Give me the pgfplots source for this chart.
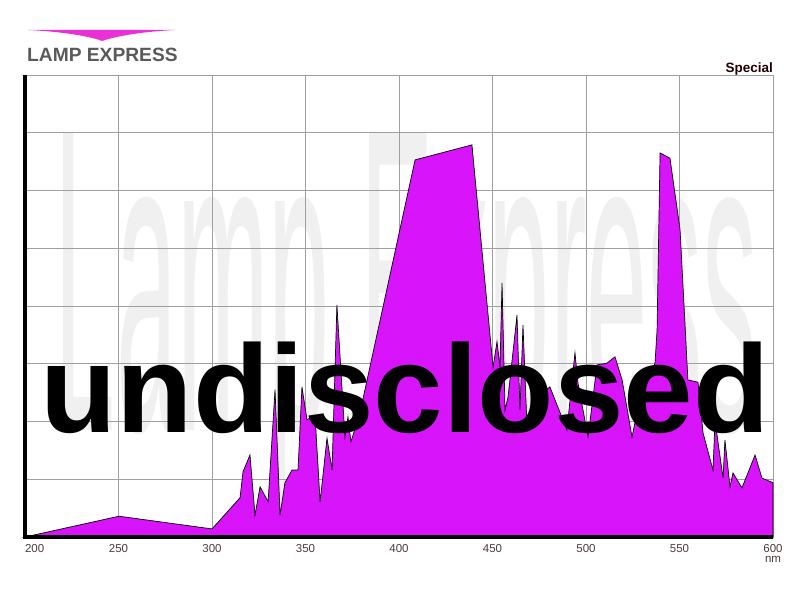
\documentclass[border=0pt]{standalone}
\usepackage{fontspec}
\setmainfont{Liberation Sans}
\setsansfont{Liberation Sans}
\usepackage{pgfplots}
\pgfplotsset{compat=1.18}

\definecolor{spec}{HTML}{D814FA}
\definecolor{logo}{HTML}{E832D8}
\definecolor{brandgray}{HTML}{5A5A5A}
\definecolor{ticktext}{HTML}{4A3C3C}
\definecolor{wm}{HTML}{F0F0F0}

% spectrum (nm, relative units 0..8)
\pgfplotstableread{
nm v
200 0
250.3 0.36
300 0.14
315 0.68
316.6 1.13
320.3 1.42
323 0.38
325.7 0.87
330 0.61
333.7 2.55
336.4 0.38
339 0.94
342.8 1.16
346 1.16
348.1 2.6
350.8 2.03
355.1 2.11
357.8 0.61
361.5 1.71
364.2 1.16
366.8 4.02
371.1 1.73
372.7 2.08
374.3 1.65
379.1 2.15
408.6 6.53
439 6.79
450.3 2.94
452.4 3.38
454 2.94
455.1 4.4
456.7 2.2
458.3 2.42
463.1 3.84
464.7 2.2
466.3 3.67
468.4 1.97
471.1 2.34
480.7 2.6
489.8 1.85
494.1 3.19
495.7 2.67
501.1 1.73
505.9 2.98
511.2 3.01
515.5 3.12
519.3 2.72
524.6 1.73
527.8 2.25
536.9 3.01
538 3.58
539.6 6.65
544.9 6.56
550.3 5.32
554.5 2.72
559.9 2.68
562.6 1.8
567.9 1.16
569 2.01
573.3 1.02
574.3 1.68
577 0.87
578.6 1.11
583.4 0.85
590.4 1.42
594.1 1.02
600 0.94
}\spectrum

\begin{document}
\begin{tikzpicture}[x=1pt,y=1pt]
\begin{axis}[
  name=ax, set layers,
  scale only axis, width=748pt, height=462pt,
  xmin=200, xmax=600, ymin=0, ymax=8,
  xtick={200,250,...,600}, ytick={0,1,...,8},
  xticklabels={\makebox[0pt][l]{200},250,300,350,400,450,500,550,600},
  yticklabels={},
  major tick length=0pt,
  grid=major,
  grid style={draw=gray!75, line width=0.8pt},
  axis line style={draw=gray!75, line width=0.8pt},
  tick label style={text=ticktext, font=\fontsize{11.5}{12}\selectfont},
  xticklabel style={yshift=-4pt},
  clip=false,
]
\begin{pgfonlayer}{axis background}
\node[text=wm, font=\fontsize{110}{110}\selectfont, inner sep=0pt, anchor=base,
  xscale=1.0, yscale=3.94] at (axis cs:404,1.85) {Lamp Express};
\end{pgfonlayer}
\addplot[fill=spec, draw=black, line width=0.7pt] table[x=nm, y=v] {\spectrum} \closedcycle;
\draw[black, line width=3.5pt] (rel axis cs:0,1) -- (rel axis cs:0,0) -- (rel axis cs:1,0);
\node[text=ticktext, font=\fontsize{11.5}{12}\selectfont, anchor=north, inner sep=0pt]
  at ([yshift=-19.5pt]rel axis cs:1,0) {nm};
\node[anchor=base east, text=black!80!red!60!black, font=\bfseries\fontsize{13.5}{14}\selectfont, inner sep=0pt]
  at ([yshift=2.5pt]rel axis cs:1,1) {Special};
\end{axis}

% everything else relative to the axis corner (pixel 25,537 of the page)
\begin{scope}[shift={(ax.south west)}]
\fill[logo] (3,507) .. controls (45,505) and (70,499) .. (77,496)
  .. controls (85,499) and (110,505) .. (150,507) -- cycle;
\node[anchor=base west, text=brandgray, font=\bfseries\fontsize{19.2}{19}\selectfont, inner sep=0pt]
  at (2,475) {LAMP EXPRESS};
\node[anchor=base, font=\bfseries\fontsize{125}{125}\selectfont, inner sep=0pt] at (380,105) {undisclosed};
\end{scope}

\pgfresetboundingbox
\path[use as bounding box] ([shift={(-25,-63)}]ax.south west) rectangle ([shift={(775,537)}]ax.south west);
\end{tikzpicture}
\end{document}
